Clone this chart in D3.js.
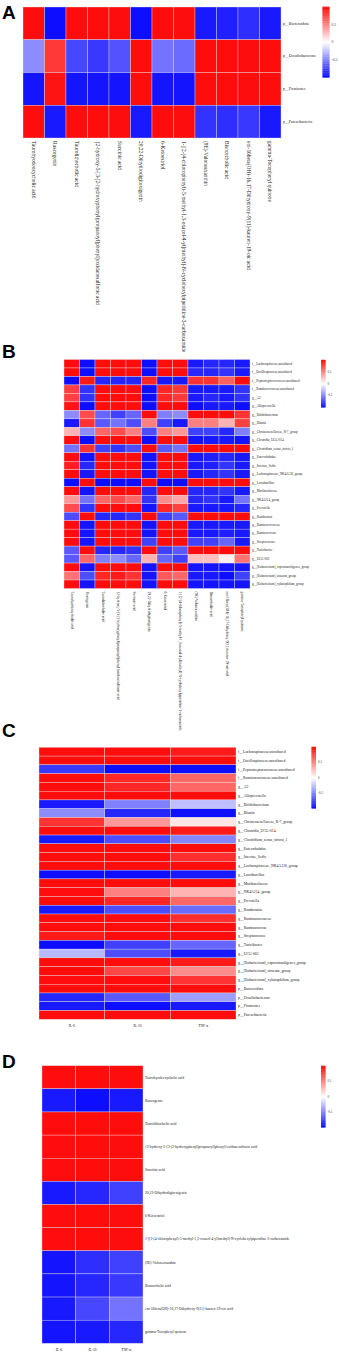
<!DOCTYPE html>
<html>
<head>
<meta charset="utf-8">
<script src="https://cdn.jsdelivr.net/npm/d3@7"></script>
<style>
  body { margin: 0; background: #fff; }
  svg { display: block; }
</style>
</head>
<body>
<div id="my_dataviz"></div>
<script>
// metabolites (columns of A and B, rows of D)
const metabolites = [
  "Taurohyodeoxycholic acid",
  "Ruscogenin",
  "Taurolithocholic acid",
  "{2-hydroxy-5-[3-(2-hydroxyphenyl)propanoyl]phenyl}oxidanesulfonic acid",
  "Succinic acid",
  "20,22-Dihydrodigitoxigenin",
  "6-Ketoestriol",
  "1-[[2-(4-chlorophenyl)-5-methyl-1,3-oxazol-4-yl]methyl]-N-cyclohexylpiperidine-3-carboxamide",
  "(9E)-Valoneaxanthin",
  "Bisnorcholic acid",
  "ent-16beta(OH)-16,17-Dihydroxy-9(11)-kauren-19-oic acid",
  "gamma-Tocopheryl quinone"
]

const cytokines = ["IL-6", "IL-10", "TNF-\u03b1"]

const phyla = ["p__Bacteroidota", "p__Desulfobacterota", "p__Firmicutes", "p__Patescibacteria"]

const genera = [
  "f__Lachnospiraceae;uncultured",
  "f__Oscillospiraceae;uncultured",
  "f__Peptostreptococcaceae;uncultured",
  "f__Ruminococcaceae;uncultured",
  "g__A2",
  "g__Alloprevotella",
  "g__Bifidobacterium",
  "g__Blautia",
  "g__Christensenellaceae_R-7_group",
  "g__Clostridia_UCG-014",
  "g__Clostridium_sensu_stricto_1",
  "g__Enterorhabdus",
  "g__Incertae_Sedis",
  "g__Lachnospiraceae_NK4A136_group",
  "g__Lactobacillus",
  "g__Muribaculaceae",
  "g__NK4A214_group",
  "g__Prevotella",
  "g__Romboutsia",
  "g__Ruminococcaceae",
  "g__Ruminococcus",
  "g__Streptococcus",
  "g__Turicibacter",
  "g__UCG-005",
  "g__[Eubacterium]_coprostanoligenes_group",
  "g__[Eubacterium]_siraeum_group",
  "g__[Eubacterium]_xylanophilum_group"
]

// A: phyla x metabolites
const valuesA = [
  [0.95, -0.95, 0.95, 0.95, 0.95, -0.95, 0.95, 0.95, -0.9, -0.88, -0.82, -0.9],
  [-0.45, 0.78, -0.72, -0.78, -0.68, 0.95, -0.55, -0.58, 0.95, 0.95, 0.95, 0.95],
  [-0.92, 0.92, -0.92, -0.92, -0.92, 0.95, -0.92, -0.92, 0.95, 0.95, 0.95, 0.95],
  [0.95, -0.9, 0.95, 0.95, 0.95, -0.9, 0.95, 0.95, -0.8, -0.82, -0.78, -0.9]
]

// B: genera x metabolites
const valuesB = [
  [0.95, -0.95, 0.95, 0.95, 0.95, -0.95, 0.95, 0.95, -0.9, -0.85, -0.85, -0.9],
  [0.95, -0.95, 0.95, 0.95, 0.95, -0.95, 0.95, 0.95, -0.85, -0.85, -0.8, -0.9],
  [-0.95, 0.9, -0.85, -0.85, -0.85, 0.85, -0.9, -0.9, 0.8, 0.8, 0.62, 0.95],
  [0.75, -0.8, 0.95, 0.95, 0.95, -0.95, 0.85, 0.78, -0.9, -0.9, -0.9, -0.8],
  [0.75, -0.8, 0.95, 0.95, 0.95, -0.95, 0.85, 0.78, -0.9, -0.85, -0.9, -0.8],
  [0.92, -0.95, 0.95, 0.95, 0.95, -0.95, 0.95, 0.95, -0.95, -0.9, -0.9, -0.95],
  [-0.45, 0.7, -0.6, -0.75, -0.6, 0.95, -0.5, -0.45, 0.95, 0.95, 0.95, 0.8],
  [-0.9, 0.8, -0.65, -0.55, -0.7, 0.5, -0.75, -0.9, 0.5, 0.5, 0.3, 0.75],
  [0.3, -0.45, 0.6, 0.7, 0.5, -0.7, 0.5, 0.4, -0.75, -0.75, -0.85, -0.5],
  [0.95, -0.95, 0.95, 0.95, 0.95, -0.95, 0.95, 0.95, -0.92, -0.9, -0.9, -0.92],
  [-0.55, 0.8, -0.75, -0.8, -0.7, 0.95, -0.65, -0.55, 0.95, 0.95, 0.95, 0.95],
  [0.95, -0.92, 0.95, 0.95, 0.95, -0.92, 0.95, 0.95, -0.9, -0.88, -0.85, -0.9],
  [0.88, -0.85, 0.95, 0.95, 0.95, -0.92, 0.95, 0.95, -0.9, -0.88, -0.8, -0.9],
  [0.95, -0.9, 0.95, 0.95, 0.95, -0.92, 0.95, 0.95, -0.9, -0.85, -0.8, -0.9],
  [-0.95, 0.95, -0.95, -0.95, -0.95, 0.95, -0.95, -0.95, 0.95, 0.95, 0.95, 0.95],
  [0.95, -0.92, 0.95, 0.95, 0.95, -0.85, 0.95, 0.95, -0.85, -0.85, -0.8, -0.9],
  [0.4, -0.55, 0.6, 0.7, 0.6, -0.8, 0.45, 0.35, -0.85, -0.8, -0.9, -0.55],
  [0.7, -0.8, 0.95, 0.95, 0.95, -0.92, 0.85, 0.75, -0.9, -0.9, -0.9, -0.85],
  [-0.7, 0.95, -0.85, -0.85, -0.8, 0.95, -0.75, -0.65, 0.95, 0.95, 0.95, 0.95],
  [0.95, -0.92, 0.95, 0.95, 0.95, -0.92, 0.95, 0.95, -0.9, -0.9, -0.9, -0.9],
  [0.95, -0.92, 0.95, 0.95, 0.95, -0.92, 0.95, 0.95, -0.9, -0.9, -0.88, -0.9],
  [0.95, -0.92, 0.95, 0.95, 0.95, -0.75, 0.95, 0.95, -0.75, -0.75, -0.6, -0.9],
  [-0.65, 0.95, -0.85, -0.85, -0.8, 0.95, -0.75, -0.65, 0.95, 0.95, 0.95, 0.95],
  [-0.65, 0.6, -0.5, -0.45, -0.6, 0.3, -0.6, -0.75, 0.25, 0.25, 0.06, 0.55],
  [0.95, -0.92, 0.95, 0.95, 0.95, -0.92, 0.95, 0.95, -0.92, -0.92, -0.92, -0.92],
  [0.55, -0.7, 0.85, 0.9, 0.8, -0.92, 0.65, 0.6, -0.9, -0.9, -0.95, -0.75],
  [0.95, -0.92, 0.95, 0.95, 0.95, -0.92, 0.95, 0.95, -0.92, -0.92, -0.92, -0.92]
]

// C: genera + phyla x cytokines
const valuesC = [
  [0.95, 0.95, 0.9],
  [0.95, 0.95, 0.95],
  [-0.78, -0.95, -0.95],
  [0.95, 0.85, 0.6],
  [0.95, 0.85, 0.6],
  [0.95, 0.95, 0.95],
  [-0.9, -0.5, -0.25],
  [-0.45, -0.85, -0.95],
  [0.8, 0.4, 0.1],
  [0.95, 0.95, 0.9],
  [-0.9, -0.7, -0.48],
  [0.95, 0.95, 0.95],
  [0.95, 0.95, 0.82],
  [0.95, 0.95, 0.95],
  [-0.95, -0.95, -0.9],
  [0.95, 0.95, 0.95],
  [0.95, 0.5, 0.3],
  [0.95, 0.85, 0.6],
  [-0.9, -0.7, -0.58],
  [0.95, 0.95, 0.82],
  [0.95, 0.95, 0.95],
  [0.9, 0.95, 0.95],
  [-0.95, -0.75, -0.6],
  [-0.28, -0.7, -0.9],
  [0.95, 0.95, 0.9],
  [0.95, 0.72, 0.45],
  [0.95, 0.95, 0.8],
  [0.95, 0.95, 0.95],
  [-0.85, -0.65, -0.38],
  [-0.9, -0.95, -0.9],
  [0.95, 0.95, 0.95]
]

// D: metabolites x cytokines
const valuesD = [
  [0.95, 0.95, 0.95],
  [-0.9, -0.95, -0.9],
  [0.95, 0.95, 0.95],
  [0.95, 0.95, 0.95],
  [0.95, 0.95, 0.95],
  [-0.9, -0.85, -0.75],
  [0.95, 0.95, 0.95],
  [0.95, 0.95, 0.95],
  [-0.92, -0.82, -0.75],
  [-0.92, -0.85, -0.78],
  [-0.9, -0.72, -0.55],
  [-0.92, -0.9, -0.85]
]

const legendTicks = [0.5, 0, -0.5]

const width = 339,
    height = 1356;

const svg = d3.select("#my_dataviz")
    .append("svg")
    .attr("width", width)
    .attr("height", height)

// blue - white - red like pheatmap
const color = d3.scaleLinear()
    .domain([-1, 0, 1])
    .range(["#0000ff", "#ffffff", "#ff0000"])

const serif = "'Liberation Serif', 'DejaVu Serif', serif"

function heatmap(opt) {
    const g = svg.append("g")
    const x = d3.scaleBand().domain(d3.range(opt.cols.length)).range([opt.x0, opt.x1])
    const y = d3.scaleBand().domain(d3.range(opt.rows.length)).range([opt.y0, opt.y1])

    const cells = []
    opt.values.forEach((row, i) => row.forEach((v, j) => cells.push({ i, j, v })))

    g.selectAll("rect.cell")
        .data(cells)
        .join("rect")
        .attr("class", "cell")
        .attr("x", d => x(d.j))
        .attr("y", d => y(d.i))
        .attr("width", x.bandwidth())
        .attr("height", y.bandwidth())
        .attr("fill", d => color(d.v))
        .attr("stroke", "#e6e6e6")
        .attr("stroke-width", 0.35)

    // row labels on the right
    g.selectAll("text.row")
        .data(opt.rows)
        .join("text")
        .attr("x", opt.x1 + 2)
        .attr("y", (d, i) => y(i) + y.bandwidth() / 2)
        .attr("dy", "0.35em")
        .style("font-family", serif)
        .style("font-size", opt.rowFont + "px")
        .attr("fill", "#222")
        .text(d => d)

    // column labels below
    if (opt.rotate) {
        g.selectAll("text.col")
            .data(opt.cols)
            .join("text")
            .attr("transform", (d, j) => `translate(${x(j) + x.bandwidth() / 2 - opt.colFont * 0.35},${opt.y1 + 3}) rotate(90)`)
            .style("font-family", serif)
            .style("font-size", opt.colFont + "px")
            .attr("fill", "#222")
            .text(d => d)
    } else {
        g.selectAll("text.col")
            .data(opt.cols)
            .join("text")
            .attr("x", (d, j) => x(j) + x.bandwidth() / 2)
            .attr("y", opt.y1 + 8)
            .attr("text-anchor", "middle")
            .style("font-family", serif)
            .style("font-size", opt.colFont + "px")
            .attr("fill", "#222")
            .text(d => d)
    }

    // colour key
    const lg = opt.legend
    const ly = d3.scaleLinear().domain([1, -1]).range([lg.y0, lg.y1])
    const steps = d3.range(-1, 1.0001, 0.02)
    g.selectAll("rect.key")
        .data(steps)
        .join("rect")
        .attr("x", lg.x)
        .attr("y", d => ly(d + 0.01))
        .attr("width", lg.w)
        .attr("height", Math.abs(ly(0) - ly(0.02)) + 0.3)
        .attr("fill", d => color(d))
    g.selectAll("text.tick")
        .data(legendTicks)
        .join("text")
        .attr("x", lg.x + lg.w + 2)
        .attr("y", d => ly(d))
        .attr("dy", "0.35em")
        .style("font-family", serif)
        .style("font-size", lg.font + "px")
        .attr("fill", "#333")
        .text(d => d)

    // panel letter
    svg.append("text")
        .attr("x", 2)
        .attr("y", opt.letterY)
        .style("font-family", "'Liberation Sans', Arial, sans-serif")
        .style("font-weight", "bold")
        .style("font-size", "19px")
        .text(opt.letter)
}

heatmap({
    letter: "A", letterY: 19,
    rows: phyla, cols: metabolites, values: valuesA,
    x0: 23, x1: 281, y0: 7, y1: 138,
    rowFont: 3.9, colFont: 5.4, rotate: true,
    legend: { x: 322.5, w: 7, y0: 7, y1: 77, font: 3.6 }
})

heatmap({
    letter: "B", letterY: 358,
    rows: genera, cols: metabolites, values: valuesB,
    x0: 64, x1: 250, y0: 359.5, y1: 588.5,
    rowFont: 3.2, colFont: 3.55, rotate: true,
    legend: { x: 321, w: 4.5, y0: 360, y1: 407, font: 3 }
})

heatmap({
    letter: "C", letterY: 737,
    rows: genera.concat(phyla), cols: cytokines, values: valuesC,
    x0: 39, x1: 236, y0: 747.3, y1: 1019.3,
    rowFont: 3.8, colFont: 3.6, rotate: false,
    legend: { x: 311.5, w: 4.5, y0: 747, y1: 808, font: 3.2 }
})

heatmap({
    letter: "D", letterY: 1068,
    rows: metabolites, cols: cytokines, values: valuesD,
    x0: 42, x1: 143, y0: 1065.7, y1: 1343.3,
    rowFont: 3.7, colFont: 3.6, rotate: false,
    legend: { x: 321, w: 4.5, y0: 1066, y1: 1127, font: 3 }
})
</script>
</body>
</html>
